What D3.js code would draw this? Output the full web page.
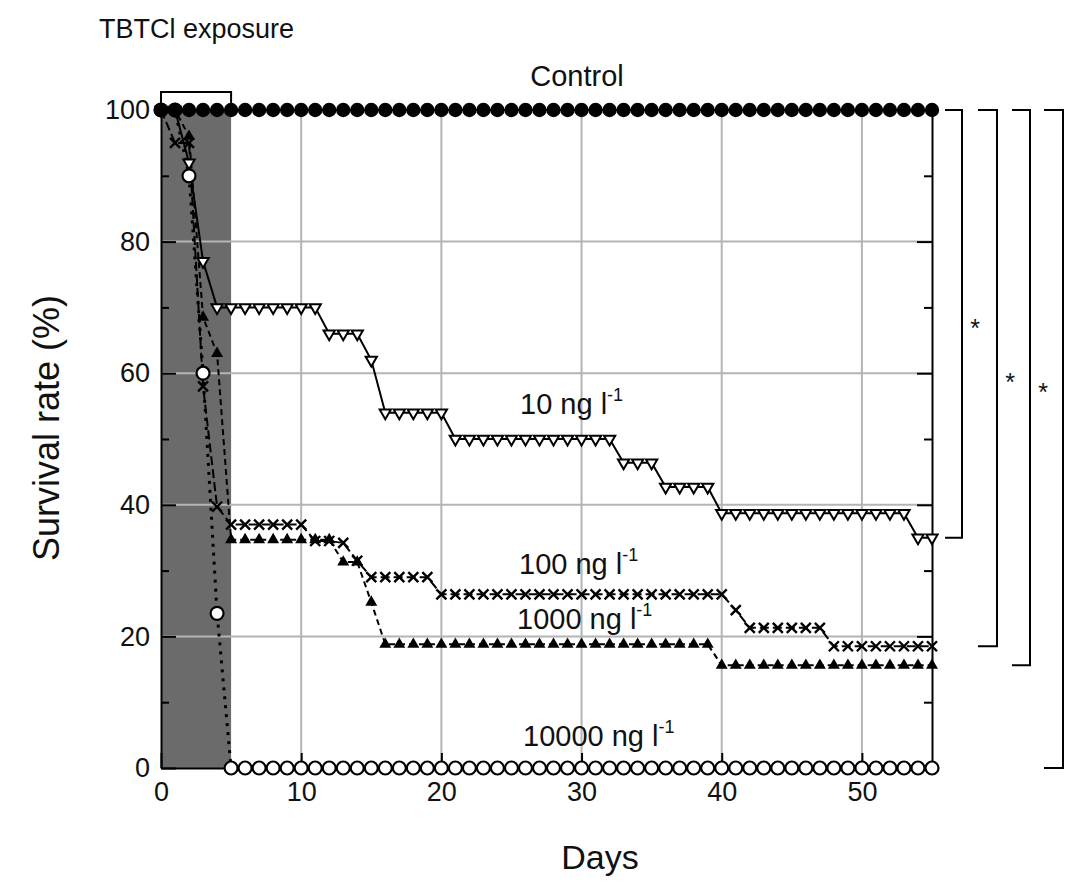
<!DOCTYPE html>
<html>
<head>
<meta charset="utf-8">
<script src="https://cdn.jsdelivr.net/npm/d3@7"></script>
<style>
  body { margin: 0; background: #fff; }
  svg { display: block; font-family: "Liberation Sans", Arial, Helvetica, sans-serif; }
</style>
</head>
<body>
<div id="chart"></div>
<script>
// Survival of animals after TBTCl exposure (days 0-55)

const days = [0,1,2,3,4,5,6,7,8,9,10,11,12,13,14,15,16,17,18,19,20,21,22,23,24,25,26,27,
  28,29,30,31,32,33,34,35,36,37,38,39,40,41,42,43,44,45,46,47,48,49,50,51,52,53,54,55];

const control = [100,100,100,100,100,100,100,100,100,100,100,100,100,100,100,100,100,100,100,100,
  100,100,100,100,100,100,100,100,100,100,100,100,100,100,100,100,100,100,100,100,
  100,100,100,100,100,100,100,100,100,100,100,100,100,100,100,100];

const ng10 = [100,100,92,77,70, 70,70,70,70,70,70,70, 66,66,66, 62, 54,54,54,54,54,
  50,50,50,50,50,50,50,50,50,50,50,50, 46.4,46.4,46.4, 42.7,42.7,42.7,42.7,
  38.7,38.7,38.7,38.7,38.7,38.7,38.7,38.7,38.7,38.7,38.7,38.7,38.7,38.7, 35,35];

const ng100 = [100,95,95,58,39.7, 37,37,37,37,37,37, 34.5,34.5,34.2,31.5, 29,29,29,29,29,
  26.4,26.4,26.4,26.4,26.4,26.4,26.4,26.4,26.4,26.4,26.4,26.4,26.4,26.4,26.4,26.4,26.4,26.4,26.4,26.4,26.4,
  24, 21.3,21.3,21.3,21.3,21.3,21.3, 18.5,18.5,18.5,18.5,18.5,18.5,18.5,18.5];

const ng1000 = [100,100,96,68.5,63, 34.7,34.7,34.7,34.7,34.7,34.7,34.7,34.7, 31.3,31.3, 25.2,
  18.8,18.8,18.8,18.8,18.8,18.8,18.8,18.8,18.8,18.8,18.8,18.8,18.8,18.8,18.8,18.8,
  18.8,18.8,18.8,18.8,18.8,18.8,18.8,18.8,
  15.6,15.6,15.6,15.6,15.6,15.6,15.6,15.6,15.6,15.6,15.6,15.6,15.6,15.6,15.6,15.6];

const ng10000 = [100,100,90,60,23.5, 0,0,0,0,0,0,0,0,0,0,0,0,0,0,0,0,0,0,0,0,0,0,0,0,0,
  0,0,0,0,0,0,0,0,0,0,0,0,0,0,0,0,0,0,0,0,0,0,0,0,0,0];

const xTicks = [0, 10, 20, 30, 40, 50];
const yTicks = [0, 20, 40, 60, 80, 100];
const yMinor = [10, 30, 50, 70, 90];
const exposure = [0, 5];

const width = 1072, height = 882;

const svg = d3.select("#chart").append("svg")
  .attr("width", width)
  .attr("height", height);

const x = d3.scaleLinear().domain([0, 55]).range([161, 932]);
const y = d3.scaleLinear().domain([0, 100]).range([768, 110]);

// exposure period shading
svg.append("rect")
  .attr("x", x(exposure[0]))
  .attr("y", y(100))
  .attr("width", x(exposure[1]) - x(exposure[0]))
  .attr("height", y(0) - y(100))
  .attr("fill", "#6b6b6b");

// grid lines
svg.append("g").selectAll("line")
  .data(xTicks.slice(1))
  .join("line")
  .attr("x1", d => x(d)).attr("x2", d => x(d))
  .attr("y1", y(0)).attr("y2", y(100))
  .attr("stroke", "#b4b4b4").attr("stroke-width", 2);

svg.append("g").selectAll("line")
  .data(yTicks.slice(1, -1))
  .join("line")
  .attr("x1", x(0)).attr("x2", x(55))
  .attr("y1", d => y(d)).attr("y2", d => y(d))
  .attr("stroke", "#b4b4b4").attr("stroke-width", 2);

// axes (ticks point inward)
function styleAxis(g) {
  g.selectAll(".domain").attr("stroke", "#000").attr("stroke-width", 2);
  g.selectAll(".tick line").attr("stroke", "#000").attr("stroke-width", 2);
  g.selectAll(".tick text").attr("fill", "#111").attr("font-size", 27)
    .attr("font-family", "'Liberation Sans', Arial, sans-serif");
}

svg.append("g")
  .attr("transform", `translate(${x(0)},0)`)
  .call(d3.axisLeft(y).tickValues(yTicks).tickSizeInner(-15).tickSizeOuter(0).tickPadding(11))
  .call(styleAxis);
svg.append("g")
  .attr("transform", `translate(${x(0)},0)`)
  .call(d3.axisLeft(y).tickValues(yMinor).tickSizeInner(-8).tickSizeOuter(0).tickFormat(""))
  .call(styleAxis)
  .call(g => g.select(".domain").remove());

svg.append("g")
  .attr("transform", `translate(${x(55)},0)`)
  .call(d3.axisRight(y).tickValues(yTicks).tickSizeInner(-15).tickSizeOuter(0).tickFormat(""))
  .call(styleAxis);
svg.append("g")
  .attr("transform", `translate(${x(55)},0)`)
  .call(d3.axisRight(y).tickValues(yMinor).tickSizeInner(-8).tickSizeOuter(0).tickFormat(""))
  .call(styleAxis)
  .call(g => g.select(".domain").remove());

svg.append("g")
  .attr("transform", `translate(0,${y(0)})`)
  .call(d3.axisBottom(x).tickValues(xTicks).tickSizeInner(-15).tickSizeOuter(0).tickPadding(14))
  .call(styleAxis);

svg.append("line")
  .attr("x1", x(0)).attr("x2", x(55))
  .attr("y1", y(100)).attr("y2", y(100))
  .attr("stroke", "#000").attr("stroke-width", 2);

// series
const line = d3.line().x((d, i) => x(days[i])).y(d => y(d));

function drawLine(values, dash, w) {
  svg.append("path")
    .datum(values)
    .attr("d", line)
    .attr("fill", "none")
    .attr("stroke", "#000")
    .attr("stroke-width", w)
    .attr("stroke-dasharray", dash);
}

const xMark = r => `M${-r},${-r}L${r},${r}M${-r},${r}L${r},${-r}`;

// 10000 ng/l - open circles, dotted
drawLine(ng10000, "3,6", 3);
// 1000 ng/l - filled up-triangles, dashed
drawLine(ng1000, "6,4", 2);
// 100 ng/l - crosses, long dashes
drawLine(ng100, "9,4", 2);
// 10 ng/l - open down-triangles, solid
drawLine(ng10, null, 2);
// control
drawLine(control, null, 2);

svg.append("g").selectAll("path")
  .data(ng1000)
  .join("path")
  .attr("transform", (d, i) => `translate(${x(days[i])},${y(d)})`)
  .attr("d", d3.symbol(d3.symbolTriangle, 62))
  .attr("fill", "#000");

svg.append("g").selectAll("path")
  .data(ng100)
  .join("path")
  .attr("transform", (d, i) => `translate(${x(days[i])},${y(d)})`)
  .attr("d", xMark(5))
  .attr("fill", "none")
  .attr("stroke", "#000")
  .attr("stroke-width", 2.4);

svg.append("g").selectAll("path")
  .data(ng10)
  .join("path")
  .attr("transform", (d, i) => `translate(${x(days[i])},${y(d)}) rotate(180)`)
  .attr("d", d3.symbol(d3.symbolTriangle, 55))
  .attr("fill", "#fff")
  .attr("stroke", "#000")
  .attr("stroke-width", 2);

svg.append("g").selectAll("circle")
  .data(ng10000)
  .join("circle")
  .attr("cx", (d, i) => x(days[i]))
  .attr("cy", d => y(d))
  .attr("r", 6.5)
  .attr("fill", "#fff")
  .attr("stroke", "#000")
  .attr("stroke-width", 2.2);

svg.append("g").selectAll("circle")
  .data(control)
  .join("circle")
  .attr("cx", (d, i) => x(days[i]))
  .attr("cy", d => y(d))
  .attr("r", 7.2)
  .attr("fill", "#000");

// series labels with superscript
function concLabel(text, lx, ly) {
  const t = svg.append("text")
    .attr("x", lx).attr("y", ly)
    .attr("font-size", 29)
    .attr("fill", "#111");
  t.append("tspan").text(text);
  t.append("tspan").attr("font-size", 18).attr("dy", -13).text("-1");
}
concLabel("10 ng l", 520, 414);
concLabel("100 ng l", 519, 574);
concLabel("1000 ng l", 517, 629);
concLabel("10000 ng l", 523, 746);

svg.append("text")
  .attr("x", 577).attr("y", 86)
  .attr("text-anchor", "middle")
  .attr("font-size", 29)
  .attr("fill", "#111")
  .text("Control");

// exposure bracket and title
svg.append("path")
  .attr("d", `M${x(exposure[0])},104V92H${x(exposure[1])}V104`)
  .attr("fill", "none")
  .attr("stroke", "#000")
  .attr("stroke-width", 2);

svg.append("text")
  .attr("x", 99).attr("y", 38)
  .attr("font-size", 27)
  .attr("fill", "#111")
  .text("TBTCl exposure");

// significance brackets
const brackets = [
  { end: ng10[ng10.length - 1], x0: 945, x1: 962, star: true },
  { end: ng100[ng100.length - 1], x0: 978, x1: 997, star: true },
  { end: ng1000[ng1000.length - 1], x0: 1012, x1: 1030, star: true },
  { end: ng10000[ng10000.length - 1], x0: 1044, x1: 1063, star: false }
];

brackets.forEach(b => {
  svg.append("path")
    .attr("d", `M${b.x0},${y(100)}H${b.x1}V${y(b.end)}H${b.x0}`)
    .attr("fill", "none")
    .attr("stroke", "#000")
    .attr("stroke-width", 2);
  if (b.star) {
    svg.append("text")
      .attr("x", b.x1 + 13)
      .attr("y", (y(100) + y(b.end)) / 2 + 13)
      .attr("text-anchor", "middle")
      .attr("font-size", 25)
      .attr("fill", "#111")
      .text("*");
  }
});

// axis titles
svg.append("text")
  .attr("x", 600).attr("y", 869)
  .attr("text-anchor", "middle")
  .attr("font-size", 34)
  .attr("fill", "#111")
  .text("Days");

svg.append("text")
  .attr("transform", "translate(59,428) rotate(-90)")
  .attr("text-anchor", "middle")
  .attr("font-size", 36)
  .attr("fill", "#111")
  .text("Survival rate (%)");
</script>
</body>
</html>
